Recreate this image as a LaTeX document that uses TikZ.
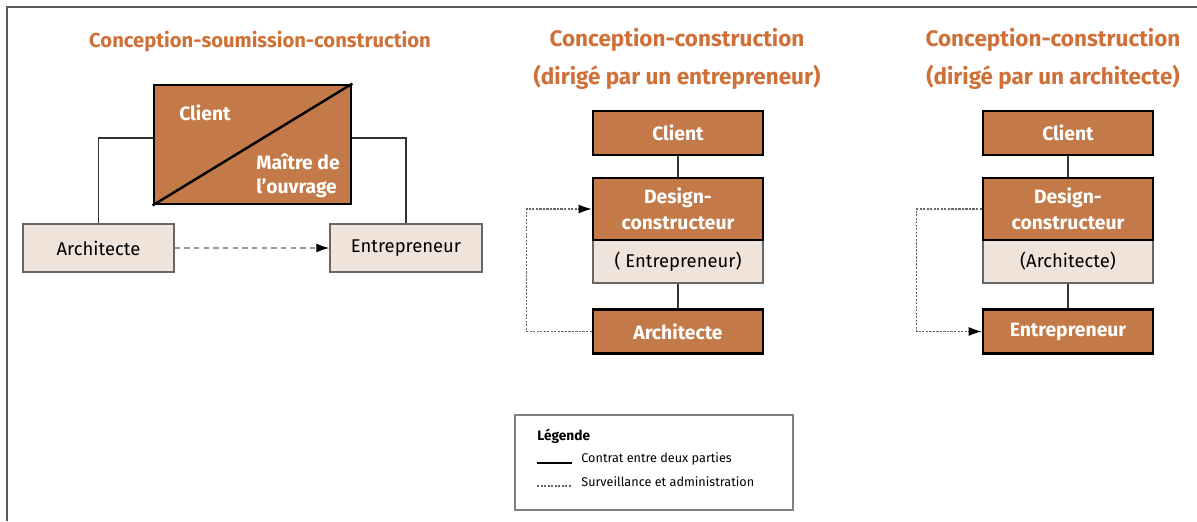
\documentclass[tikz,border=0pt]{standalone}
\usepackage{fontspec}
\setmainfont{Fira Sans}
\usepackage{xcolor}
\usepackage{tikz}
\usetikzlibrary{arrows}
\usetikzlibrary{arrows.meta}
\usetikzlibrary{shapes}
\usetikzlibrary{positioning}

\definecolor{titleorange}{RGB}{207,112,56}
\definecolor{boxorange}{RGB}{196,122,72}
\definecolor{boxbeige}{RGB}{240,227,218}
\definecolor{framegray}{RGB}{90,90,90}

\tikzset{
  titletext/.style={text=titleorange, font=\bfseries\fontsize{12.8}{14}\selectfont},
  darkbox/.style={rectangle, draw=black, line width=1.6pt, fill=boxorange, text=white,
    font=\bfseries\fontsize{11}{15}\selectfont, align=center, inner sep=0pt,
    minimum width=3.4cm, minimum height=0.88cm},
  lightbox/.style={rectangle, draw=gray!80!black, line width=0.8pt, fill=boxbeige,
    font=\fontsize{10.5}{12}\selectfont, align=center, inner sep=0pt,
    minimum width=3.4cm, minimum height=0.86cm},
  contract/.style={draw=black!80, line width=0.6pt},
  watch/.style={draw=black!60, line width=0.6pt, dash pattern=on 1.2pt off 0.8pt,
    -{Latex[black, length=2.6mm, width=1.8mm]}},
}

\begin{document}
\begin{tikzpicture}[x=0.02cm, y=-0.02cm]
\useasboundingbox (0,0) rectangle (1197,521);
\draw [framegray, line width=0.8pt] (7,521) -- (7,7) -- (1197,7);

% Conception-soumission-construction
\node [titletext, font=\bfseries\fontsize{11.5}{13}\selectfont] (T1) at (260, 42) {Conception-soumission-construction};
\node [darkbox, minimum width=3.94cm, minimum height=2.38cm] (C1) at (252.5, 144.5) {};
\draw [black, line width=1.4pt] (C1.south west) -- (C1.north east);
\node [text=white, font=\bfseries\fontsize{11}{12}\selectfont] (C1a) at (205, 113) {Client};
\node [text=white, font=\bfseries\fontsize{11}{13.5}\selectfont, align=left] (C1b) at (298, 176) {Maître de\\l'ouvrage};
\node [lightbox, minimum width=3.02cm, minimum height=0.96cm] (A1) at (98.5, 248) {Architecte};
\node [lightbox, minimum width=3.04cm, minimum height=0.96cm] (E1) at (406, 248) {Entrepreneur};
\draw [contract] ([yshift=0.13cm]C1.west) -| (A1.north);
\draw [contract] ([yshift=0.13cm]C1.east) -| (E1.north);
\draw [draw=gray!80, line width=0.7pt, dash pattern=on 3pt off 2.5pt,
  -{Latex[black, length=2.6mm, width=1.8mm]}] (A1) -- (E1);

% Conception-construction (entrepreneur)
\node [titletext] (T2a) at (677, 40) {Conception-construction};
\node [titletext] (T2b) at (677, 77) {(dirigé par un entrepreneur)};
\node [darkbox] (C2) at (678, 133) {Client};
\node [lightbox] (S2) at (678, 261.5) {( Entrepreneur)};
\node [darkbox, minimum height=1.24cm] (D2) at (678, 209) {Design-\\constructeur};
\node [darkbox] (A2) at (678, 331.5) {Architecte};
\draw [contract] (C2) -- (D2);
\draw [contract] (S2) -- (A2);
\draw [watch] (A2.west) -- ++(-65, 0) |- (D2.west);

% Conception-construction (architecte)
\node [titletext] (T3a) at (1053, 40) {Conception-construction};
\node [titletext] (T3b) at (1053, 77) {(dirigé par un architecte)};
\node [darkbox] (C3) at (1068, 133) {Client};
\node [lightbox] (S3) at (1068, 261.5) {(Architecte)};
\node [darkbox, minimum height=1.24cm] (D3) at (1068, 209) {Design-\\constructeur};
\node [darkbox] (E3) at (1068, 331.5) {Entrepreneur};
\draw [contract] (C3) -- (D3);
\draw [contract] (S3) -- (E3);
\draw [watch] (D3.west) -- ++(-65, 0) |- (E3.west);

% Legende
\node [rectangle, draw=gray, line width=0.8pt, minimum width=5.56cm, minimum height=1.9cm] (L) at (654, 462.5) {};
\node [anchor=west, inner sep=0pt, font=\bfseries\fontsize{7.8}{9}\selectfont] (L0) at (537, 436) {Légende};
\draw [black, line width=0.8pt] (537, 463) -- (572, 463);
\node [anchor=west, inner sep=0pt, font=\fontsize{7.2}{9}\selectfont] (L1) at (581, 459) {Contrat entre deux parties};
\draw [black!60, line width=0.6pt, dash pattern=on 1.2pt off 0.8pt] (537, 486) -- (572, 486);
\node [anchor=west, inner sep=0pt, font=\fontsize{7.2}{9}\selectfont] (L2) at (581, 482) {Surveillance et administration};
\end{tikzpicture}
\end{document}
